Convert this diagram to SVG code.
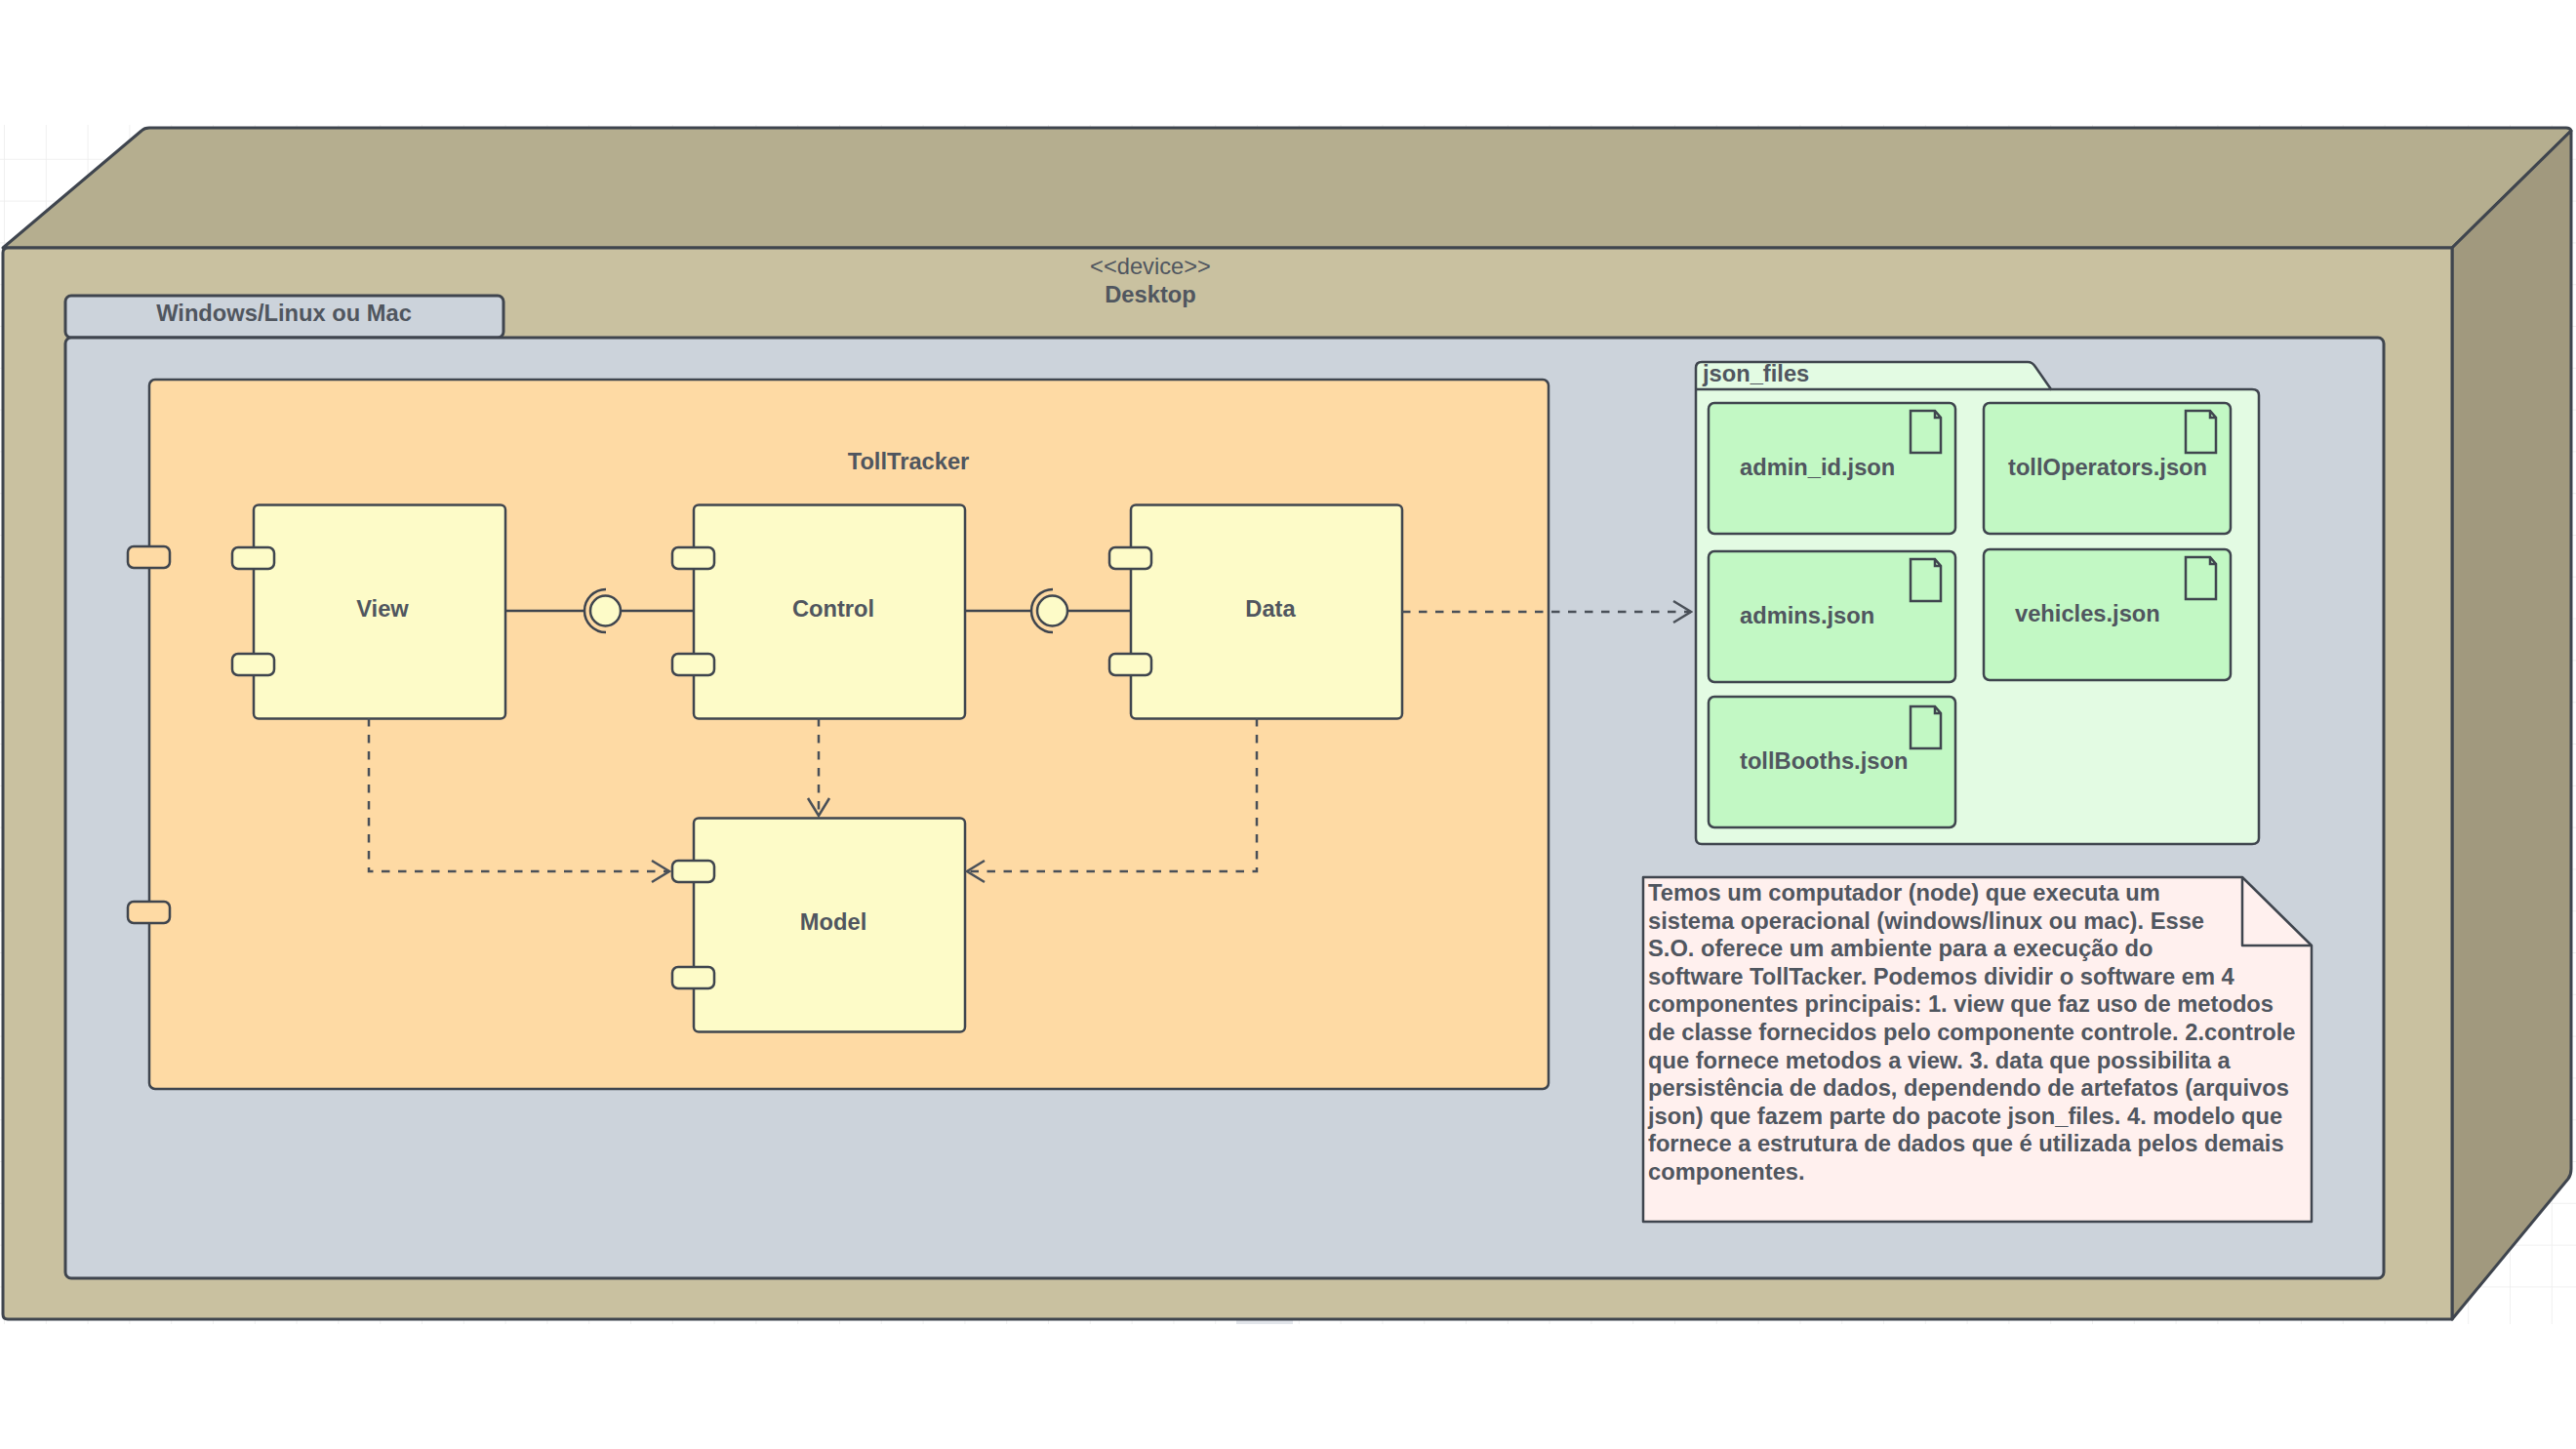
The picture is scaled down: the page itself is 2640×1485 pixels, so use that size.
<svg xmlns="http://www.w3.org/2000/svg" width="2640" height="1485" viewBox="0 0 2640 1485">
<style>
.s{stroke:#3f454e;stroke-width:2.5;stroke-linejoin:round}
.s3{stroke:#3f454e;stroke-width:3;stroke-linejoin:round}
.comp{fill:#fdfbc8}
.art{fill:#c2f8c4}
.port{fill:#fdfbc8;stroke:#3f454e;stroke-width:2.5}
.icon{fill:none;stroke:#3f454e;stroke-width:2.5}
text{font-family:"Liberation Sans",Arial,sans-serif;font-size:23.7px;font-weight:700;fill:#50565f}
.c{text-anchor:middle}
.r{font-weight:400}
.dep{fill:none;stroke:#4a5058;stroke-width:2.5;stroke-dasharray:8.5 8.5;marker-end:url(#open)}
.sol{fill:none;stroke:#3f454e;stroke-width:2.5}
</style>
<defs>
<marker id="open" markerUnits="userSpaceOnUse" markerWidth="24" markerHeight="28" viewBox="-22 -14 24 28" refX="0" refY="0" orient="auto">
<path d="M-18 -11L0 0L-18 11" fill="none" stroke="#4a5058" stroke-width="2.5" stroke-dasharray="none"/>
</marker>
<pattern id="grid" patternUnits="userSpaceOnUse" x="4" y="120" width="42.8" height="42.8">
<path d="M0 0V42.8M0 0H42.8" fill="none" stroke="#ececec" stroke-width="1.5"/>
</pattern>
</defs>
<rect width="2640" height="1485" fill="#fff"/>
<rect x="0" y="128" width="2640" height="1229" fill="url(#grid)"/>
<rect x="1267" y="1352" width="58" height="5" fill="#e2e5ea"/>

<g id="node-desktop">
<path class="s3" fill="#b5ae8f" d="M3 254L145 134Q148 131 153 131H2630Q2634 131 2635 134L2513 254Z"/>
<path class="s3" fill="#a1997e" d="M2513 254L2635 134V1198Q2635 1204 2632 1208L2513 1352Z"/>
<path class="s3" fill="#c9c1a0" d="M8 254H2513V1352H8Q3 1352 3 1347V259Q3 254 8 254Z"/>
<text class="c r" x="1179" y="281">&lt;&lt;device&gt;&gt;</text>
<text class="c" x="1179" y="310">Desktop</text>
</g>

<g id="package-os">
<rect class="s3" fill="#ccd3db" x="67" y="303" width="449" height="43" rx="6"/>
<rect class="s3" fill="#ccd3db" x="67" y="346" width="2376" height="964" rx="6"/>
<text class="c" x="291" y="329">Windows/Linux ou Mac</text>
</g>

<g id="component-tolltracker">
<rect class="s" fill="#fedaa4" x="153" y="389" width="1434" height="727" rx="6"/>
<rect class="port" style="fill:#fedaa4" x="131" y="560" width="43" height="22" rx="6"/>
<rect class="port" style="fill:#fedaa4" x="131" y="924" width="43" height="22" rx="6"/>
<text class="c" x="931" y="481">TollTracker</text>
</g>

<g id="component-view">
<rect class="s comp" x="260" y="517.5" width="258" height="219" rx="5"/>
<rect class="port" x="238" y="561" width="43" height="22" rx="6"/>
<rect class="port" x="238" y="670" width="43" height="22" rx="6"/>
<text class="c" x="392" y="632">View</text>
</g>
<g id="component-control">
<rect class="s comp" x="711" y="517.5" width="278" height="219" rx="5"/>
<rect class="port" x="689" y="561" width="43" height="22" rx="6"/>
<rect class="port" x="689" y="670" width="43" height="22" rx="6"/>
<text class="c" x="854" y="632">Control</text>
</g>
<g id="component-data">
<rect class="s comp" x="1159" y="517.5" width="278" height="219" rx="5"/>
<rect class="port" x="1137" y="561" width="43" height="22" rx="6"/>
<rect class="port" x="1137" y="670" width="43" height="22" rx="6"/>
<text class="c" x="1302" y="632">Data</text>
</g>
<g id="component-model">
<rect class="s comp" x="711" y="838.5" width="278" height="219" rx="5"/>
<rect class="port" x="689" y="882" width="43" height="22" rx="6"/>
<rect class="port" x="689" y="991" width="43" height="22" rx="6"/>
<text class="c" x="854" y="953">Model</text>
</g>

<g id="package-json-files">
<path class="s" fill="#e3fbe3" d="M1738 399V377Q1738 371 1744 371H2078Q2083 371 2086 376L2102 399H2308Q2315 399 2315 405V859Q2315 865 2308 865H1744Q1738 865 1738 859Z"/>
<path class="s" fill="none" d="M1738 399H2102"/>
<text x="1745" y="391">json_files</text>
</g>

<g id="artifact-admin-id">
<rect class="s art" x="1751" y="413" width="253" height="134" rx="6"/>
<path class="icon" d="M1958 421H1983L1989 428V464H1958ZM1983 421V428H1989"/>
<text x="1783" y="487">admin_id.json</text>
</g>
<g id="artifact-toll-operators">
<rect class="s art" x="2033" y="413" width="253" height="134" rx="6"/>
<path class="icon" d="M2240 421H2265L2271 428V464H2240ZM2265 421V428H2271"/>
<text x="2058" y="487">tollOperators.json</text>
</g>
<g id="artifact-admins">
<rect class="s art" x="1751" y="565" width="253" height="134" rx="6"/>
<path class="icon" d="M1958 573H1983L1989 580V616H1958ZM1983 573V580H1989"/>
<text x="1783" y="639">admins.json</text>
</g>
<g id="artifact-vehicles">
<rect class="s art" x="2033" y="563" width="253" height="134" rx="6"/>
<path class="icon" d="M2240 571H2265L2271 578V614H2240ZM2265 571V578H2271"/>
<text x="2065" y="637">vehicles.json</text>
</g>
<g id="artifact-toll-booths">
<rect class="s art" x="1751" y="714" width="253" height="134" rx="6"/>
<path class="icon" d="M1958 724H1983L1989 731V767H1958ZM1983 724V731H1989"/>
<text x="1783" y="788">tollBooths.json</text>
</g>

<g id="note">
<path class="s" fill="#fff0ee" d="M1684 899H2298L2369 969V1252H1684Z"/>
<path class="s" fill="none" d="M2298 899V969H2369"/>
<text x="1689" y="923">Temos um computador (node) que executa um</text>
<text x="1689" y="951.6">sistema operacional (windows/linux ou mac). Esse</text>
<text x="1689" y="980.2">S.O. oferece um ambiente para a execução do</text>
<text x="1689" y="1008.8">software TollTacker. Podemos dividir o software em 4</text>
<text x="1689" y="1037.4">componentes principais: 1. view que faz uso de metodos</text>
<text x="1689" y="1066">de classe fornecidos pelo componente controle. 2.controle</text>
<text x="1689" y="1094.6">que fornece metodos a view. 3. data que possibilita a</text>
<text x="1689" y="1123.2">persistência de dados, dependendo de artefatos (arquivos</text>
<text x="1689" y="1151.8">json) que fazem parte do pacote json_files. 4. modelo que</text>
<text x="1689" y="1180.4">fornece a estrutura de dados que é utilizada pelos demais</text>
<text x="1689" y="1209">componentes.</text>
</g>

<g id="connectors">
<path class="sol" d="M518 626H599"/>
<path class="sol" d="M636 626H711"/>
<path class="sol" d="M989 626H1057"/>
<path class="sol" d="M1094 626H1159"/>
<path class="dep" d="M839 736V836"/>
<path class="dep" d="M378 736V893H686"/>
<path class="dep" d="M1288 736V893H991"/>
<path class="dep" d="M1437 627H1733"/>
</g>

<g id="interface-view-control">
<path class="sol" d="M621 604A22 22 0 0 0 621 648"/>
<circle class="s comp" cx="620.5" cy="626" r="15.5"/>
</g>
<g id="interface-control-data">
<path class="sol" d="M1079 604A22 22 0 0 0 1079 648"/>
<circle class="s comp" cx="1078.5" cy="626" r="15.5"/>
</g>
</svg>
